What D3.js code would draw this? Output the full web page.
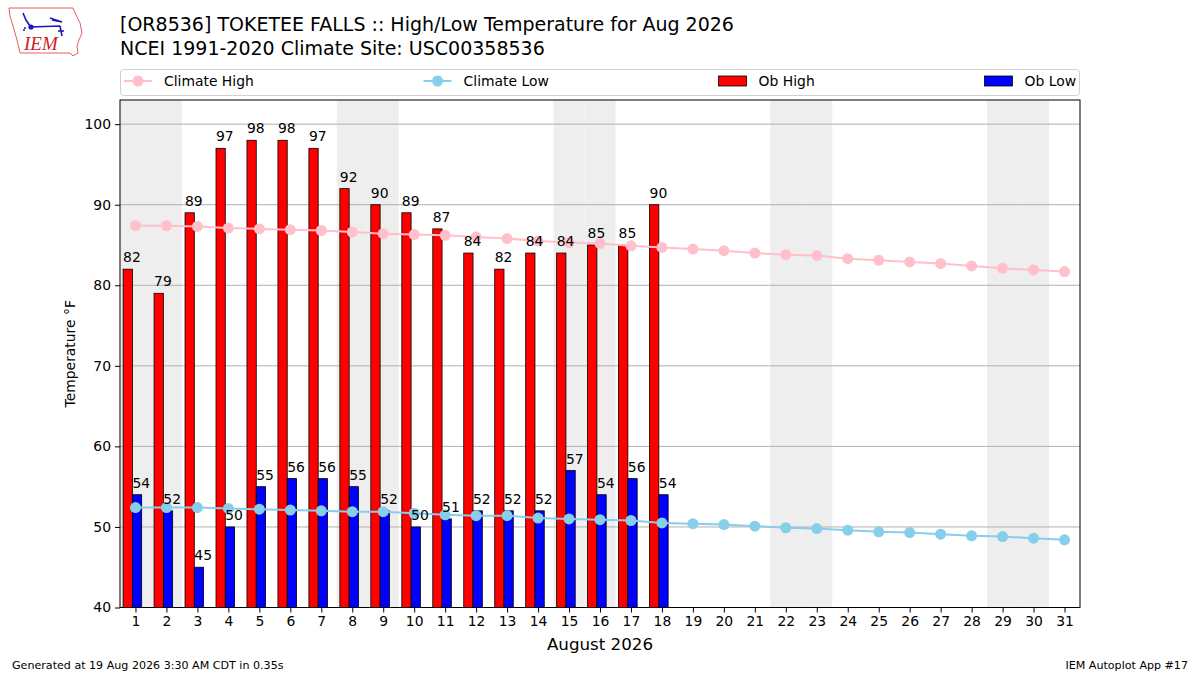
<!DOCTYPE html>
<html>
<head>
<meta charset="utf-8">
<script src="https://cdn.jsdelivr.net/npm/d3@7"></script>
<style>
  body { margin: 0; background: #fff; }
  svg { font-family: 'DejaVu Sans', sans-serif; }
</style>
</head>
<body>
<svg id="chart"></svg>
<script>
// days of August 2026
const days = d3.range(1, 32);
const weekendDays = [1, 2, 8, 9, 15, 16, 22, 23, 29, 30];

// observed highs / lows (days 1-18)
const obHigh = [82, 79, 89, 97, 98, 98, 97, 92, 90, 89, 87, 84, 82, 84, 84, 85, 85, 90];
const obLow = [54, 52, 45, 50, 55, 56, 56, 55, 52, 50, 51, 52, 52, 52, 57, 54, 56, 54];

// NCEI 1991-2020 climatology
const climHigh = [87.4, 87.4, 87.3, 87.1, 87.0, 86.9, 86.8, 86.6, 86.4, 86.3, 86.2, 86.0, 85.8, 85.5, 85.3, 85.2,
  84.9, 84.7, 84.5, 84.3, 84.0, 83.8, 83.7, 83.3, 83.1, 82.9, 82.7, 82.4, 82.1, 81.9, 81.7];
const climLow = [52.4, 52.4, 52.4, 52.3, 52.2, 52.1, 52.0, 51.9, 51.9, 51.7, 51.5, 51.4, 51.4, 51.1, 51.0, 50.9,
  50.8, 50.5, 50.4, 50.3, 50.1, 49.9, 49.8, 49.6, 49.4, 49.3, 49.1, 48.9, 48.8, 48.6, 48.4];

const yTicks = [40, 50, 60, 70, 80, 90, 100];

const legendItems = [
  { label: 'Climate High', type: 'line', color: '#FFC0CB' },
  { label: 'Climate Low', type: 'line', color: '#87CEEB' },
  { label: 'Ob High', type: 'rect', color: '#FF0000' },
  { label: 'Ob Low', type: 'rect', color: '#0000FF' }
];

const width = 1200;
const height = 675;
const margin = { top: 100, right: 120, bottom: 67, left: 120 };

const svg = d3.select('#chart')
  .attr('width', width)
  .attr('height', height);

const x = d3.scaleLinear()
  .domain([0.5, 31.5])
  .range([margin.left, width - margin.right]);
const y = d3.scaleLinear()
  .domain([40, 103])
  .range([height - margin.bottom - 0.5, margin.top]);

const plotTop = y.range()[1];
const plotBottom = y.range()[0];

/* weekend shading */
svg.append('g')
  .selectAll('rect')
  .data(weekendDays)
  .enter()
  .append('rect')
  .attr('x', d => x(d - 0.5))
  .attr('width', x(1.5) - x(0.5))
  .attr('y', plotTop)
  .attr('height', plotBottom - plotTop)
  .attr('fill', '#eeeeee');

/* grid */
svg.append('g')
  .selectAll('line')
  .data(yTicks)
  .enter()
  .append('line')
  .attr('x1', x.range()[0])
  .attr('x2', x.range()[1])
  .attr('y1', d => y(d))
  .attr('y2', d => y(d))
  .attr('stroke', '#b0b0b0')
  .attr('stroke-width', 1);

/* bars */
const barW = x(0.3) - x(0);
const highBars = svg.append('g');
highBars.selectAll('rect')
  .data(obHigh)
  .enter()
  .append('rect')
  .attr('x', (d, i) => x(i + 1 - 0.4))
  .attr('width', barW)
  .attr('y', d => y(d))
  .attr('height', d => plotBottom - y(d))
  .attr('fill', '#FF0000')
  .attr('stroke', '#000')
  .attr('stroke-width', 0.8);

const lowBars = svg.append('g');
lowBars.selectAll('rect')
  .data(obLow)
  .enter()
  .append('rect')
  .attr('x', (d, i) => x(i + 1 - 0.1))
  .attr('width', barW)
  .attr('y', d => y(d))
  .attr('height', d => plotBottom - y(d))
  .attr('fill', '#0000FF')
  .attr('stroke', '#000')
  .attr('stroke-width', 0.8);

/* climate lines */
const line = d3.line()
  .x((d, i) => x(days[i]))
  .y(d => y(d));

[[climHigh, '#FFC0CB'], [climLow, '#87CEEB']].forEach(([series, color]) => {
  svg.append('path')
    .datum(series)
    .attr('d', line)
    .attr('fill', 'none')
    .attr('stroke', color)
    .attr('stroke-width', 2);
  svg.append('g')
    .selectAll('circle')
    .data(series)
    .enter()
    .append('circle')
    .attr('cx', (d, i) => x(days[i]))
    .attr('cy', d => y(d))
    .attr('r', 5.5)
    .attr('fill', color);
});

/* value labels */
svg.append('g')
  .selectAll('text')
  .data(obHigh)
  .enter()
  .append('text')
  .attr('x', (d, i) => x(i + 1 - 0.4))
  .attr('y', d => y(d) - 7)
  .attr('font-size', 13.9)
  .attr('fill', '#000')
  .text(d => d);

svg.append('g')
  .selectAll('text')
  .data(obLow)
  .enter()
  .append('text')
  .attr('x', (d, i) => x(i + 1 - 0.1))
  .attr('y', d => y(d) - 7)
  .attr('font-size', 13.9)
  .attr('fill', '#000')
  .text(d => d);

/* axes */
const xAxis = svg.append('g')
  .attr('transform', `translate(0,${plotBottom})`)
  .call(d3.axisBottom(x).tickValues(days).tickFormat(d3.format('d')).tickSize(5).tickPadding(4));
const yAxis = svg.append('g')
  .attr('transform', `translate(${x.range()[0]},0)`)
  .call(d3.axisLeft(y).tickValues(yTicks).tickSize(5).tickPadding(4));
[xAxis, yAxis].forEach(a => {
  a.select('.domain').remove();
  a.selectAll('text')
    .attr('font-size', 13.9)
    .attr('font-family', 'DejaVu Sans')
    .attr('fill', '#000');
  a.selectAll('line').attr('stroke', '#000');
});

/* frame */
svg.append('rect')
  .attr('x', x.range()[0])
  .attr('y', plotTop)
  .attr('width', x.range()[1] - x.range()[0])
  .attr('height', plotBottom - plotTop)
  .attr('fill', 'none')
  .attr('stroke', '#000')
  .attr('stroke-width', 1);

/* axis titles */
svg.append('text')
  .attr('transform', `translate(75,${(plotTop + plotBottom) / 2}) rotate(-90)`)
  .attr('text-anchor', 'middle')
  .attr('font-size', 13.9)
  .text('Temperature °F');

svg.append('text')
  .attr('x', (x.range()[0] + x.range()[1]) / 2)
  .attr('y', 650)
  .attr('text-anchor', 'middle')
  .attr('font-size', 16.7)
  .text('August 2026');

/* titles */
svg.append('text')
  .attr('x', 120)
  .attr('y', 31)
  .attr('font-size', 19)
  .text('[OR8536] TOKETEE FALLS :: High/Low Temperature for Aug 2026');
svg.append('text')
  .attr('x', 120)
  .attr('y', 55)
  .attr('font-size', 19)
  .text('NCEI 1991-2020 Climate Site: USC00358536');

/* legend */
const legend = svg.append('g');
legend.append('rect')
  .attr('x', 120.5)
  .attr('y', 69.5)
  .attr('width', 959)
  .attr('height', 26)
  .attr('rx', 3)
  .attr('fill', '#fff')
  .attr('stroke', '#d0d0d0');

const legendGroups = legend.selectAll('g.item')
  .data(legendItems)
  .enter()
  .append('g')
  .attr('class', 'item');
legendGroups.each(function (d) {
  const g = d3.select(this);
  if (d.type === 'line') {
    g.append('line')
      .attr('x1', 0).attr('x2', 28)
      .attr('y1', 0).attr('y2', 0)
      .attr('stroke', d.color)
      .attr('stroke-width', 2);
    g.append('circle')
      .attr('cx', 14).attr('cy', 0)
      .attr('r', 5.5)
      .attr('fill', d.color);
  } else {
    g.append('rect')
      .attr('x', 0).attr('y', -5)
      .attr('width', 28).attr('height', 10)
      .attr('fill', d.color)
      .attr('stroke', '#000')
      .attr('stroke-width', 0.8);
  }
  g.append('text')
    .attr('x', 40)
    .attr('y', 5)
    .attr('font-size', 13.9)
    .text(d.label);
});
const itemWidths = legendGroups.nodes().map(n => n.getBBox().width);
const legStart = 124;
const legEnd = 1076;
const legGap = (legEnd - legStart - d3.sum(itemWidths)) / (legendItems.length - 1);
let legX = legStart;
legendGroups.attr('transform', (d, i) => {
  const pos = legX;
  legX += itemWidths[i] + legGap;
  return `translate(${pos},81)`;
});

/* footer */
svg.append('text')
  .attr('x', 12)
  .attr('y', 669)
  .attr('font-size', 11.1)
  .text('Generated at 19 Aug 2026 3:30 AM CDT in 0.35s');
svg.append('text')
  .attr('x', 1188)
  .attr('y', 669)
  .attr('text-anchor', 'end')
  .attr('font-size', 11.1)
  .text('IEM Autoplot App #17');

/* logo */
const logo = svg.append('g');
logo.append('path')
  .attr('d', 'M9,8 L73,8 L76,15 L80,23 L82,33 L79,40 L77,46 L78,53 L73,56 L70,53 L20,53 L17,40 L13,26 L10,16 Z')
  .attr('fill', 'none')
  .attr('stroke', '#e06060')
  .attr('stroke-width', 1);
logo.append('path')
  .attr('d', 'M23,13 L26,20 L30,26 M30,27 L60,26 M50,18 L62,22 L52,20 M60,26 L62,36 M58,31 L64,31')
  .attr('fill', 'none')
  .attr('stroke', '#1a1ab0')
  .attr('stroke-width', 1.6);
logo.append('circle').attr('cx', 31).attr('cy', 27).attr('r', 2.6).attr('fill', '#1a1ab0');
logo.append('circle').attr('cx', 25).attr('cy', 28).attr('r', 1).attr('fill', '#1a1ab0');
logo.append('circle').attr('cx', 24).attr('cy', 30).attr('r', 1).attr('fill', '#1a1ab0');
logo.append('text')
  .attr('x', 24)
  .attr('y', 50)
  .attr('font-family', 'Liberation Serif, serif')
  .attr('font-style', 'italic')
  .attr('font-size', 19)
  .attr('fill', '#d02020')
  .text('IEM');
</script>
</body>
</html>
